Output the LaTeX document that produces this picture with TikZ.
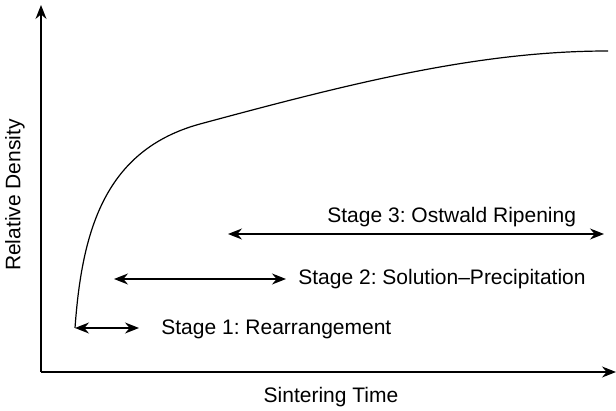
\documentclass[tikz,border=0pt]{standalone}
\usepackage{fontspec}
\setmainfont{Liberation Sans}
\usepackage{tikz}
\usetikzlibrary{positioning,calc,arrows.meta}
\tikzset{axis/.style={draw, line width=0.6pt, -{Stealth[length=7pt,width=5.5pt]}}}
\tikzset{span/.style={draw, line width=0.6pt, {Stealth[length=7pt,width=5.5pt]}-{Stealth[length=7pt,width=5.5pt]}}}
\tikzset{lbl/.style={inner sep=0pt, font=\fontsize{10.5}{12}\selectfont}}
\frenchspacing

\begin{document}
\begin{tikzpicture}
		[x=0.5pt, y=-0.5pt]
		\useasboundingbox (0,0) rectangle (616,411);
		% axes
		\coordinate (O) at (41,372);
		\coordinate (ytop) at (41,5);
		\coordinate (xend) at (616,372);
		\draw[axis] (O) -- (ytop);
		\draw[axis] (O) -- (xend);
		\node[lbl, rotate=90] (ylab) at (15,195) {Relative Density};
		\node[lbl] (xlab) at (331,397) {Sintering Time};
		% density curve
		\coordinate (c0) at (75,328);
		\coordinate (knee) at (200,124);
		\coordinate (c1) at (608,51);
		\draw[line width=0.6pt] (c0) .. controls (82,230) and (105,150) .. (knee)
			.. controls (350,83.5) and (478,51) .. (c1);
		% stages
		\coordinate (s1a) at (75,328);
		\coordinate (s1b) at (139,328);
		\draw[span] (s1a) -- (s1b);
		\node[lbl, anchor=west] (s1) at (161,329) {Stage 1: Rearrangement};
		\coordinate (s2a) at (114,279);
		\coordinate (s2b) at (286,279);
		\draw[span] (s2a) -- (s2b);
		\node[lbl, anchor=west] (s2) at (298,279) {Stage 2: Solution--Precipitation};
		\coordinate (s3a) at (228,234);
		\coordinate (s3b) at (604,234);
		\draw[span] (s3a) -- (s3b);
		\node[lbl, anchor=west] (s3) at (327,217) {Stage 3: Ostwald Ripening};
\end{tikzpicture}
\end{document}
